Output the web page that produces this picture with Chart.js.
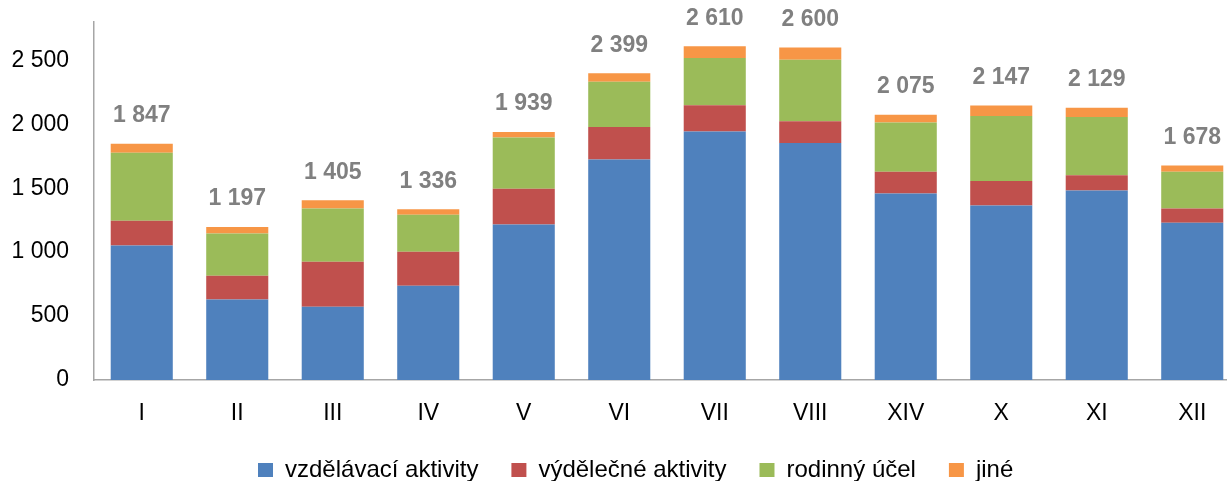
<!DOCTYPE html>
<html><head><meta charset="utf-8">
<script src="https://cdn.jsdelivr.net/npm/chart.js@4"></script>
<style>html,body{margin:0;padding:0;background:#fff;overflow:hidden}#wrap{width:1250px;height:481px}</style>
</head><body><div id="wrap"><canvas id="c" width="1250" height="481"></canvas></div>
<script>
const categories = ['I','II','III','IV','V','VI','VII','VIII','XIV','X','XI','XII'];
const vzdelavaci = [1052,630,573,737,1216,1724,1943,1854,1458,1364,1482,1229];
const vydelecne  = [193,185,351,266,279,255,205,169,170,193,120,112];
const rodinny    = [533,331,417,289,401,354,370,482,385,508,455,287];
const jine       = [69,51,64,44,43,66,92,95,62,82,72,50];
const totals     = [1847,1197,1405,1336,1939,2399,2610,2600,2075,2147,2129,1678];
const seriesNames = ['vzdělávací aktivity','výdělečné aktivity','rodinný účel','jiné'];
const seriesColors = ['#4f81bd','#c0504d','#9bbb59','#f79646'];
const yTicks = [0,500,1000,1500,2000,2500];

const fmt = v => String(v).replace(/\B(?=(\d{3})+(?!\d))/g, ' ');
Chart.defaults.font.family = '"Liberation Sans", Arial, sans-serif';
Chart.defaults.color = '#000';

const totalLabels = {
  id: 'totalLabels',
  afterDatasetsDraw(chart) {
    const meta = chart.getDatasetMeta(chart.data.datasets.length - 1);
    const ctx = chart.ctx;
    ctx.save();
    ctx.font = 'bold 23px "Liberation Sans", Arial, sans-serif';
    ctx.fillStyle = '#808080';
    ctx.textAlign = 'center';
    ctx.textBaseline = 'middle';
    meta.data.forEach((el, i) => {
      ctx.fillText(fmt(totals[i]), el.x, el.y - 28);
    });
    ctx.restore();
  }
};

const legendPlace = {
  id: 'legendPlace',
  afterLayout(chart) {
    const lg = chart.legend;
    const p = lg.options.labels.padding;
    const h = lg.bottom - lg.top;
    lg.left = 258 - p;
    lg.top = 458 - p;
    lg.bottom = lg.top + h;
    chart.scales.x.bottom = 450;
  }
};

const dataArrays = [vzdelavaci, vydelecne, rodinny, jine];
new Chart(document.getElementById('c'), {
  type: 'bar',
  data: {
    labels: categories,
    datasets: dataArrays.map((d, i) => ({
      label: seriesNames[i],
      data: d,
      backgroundColor: seriesColors[i],
      borderWidth: 0,
      barPercentage: 0.65,
      categoryPercentage: 1
    }))
  },
  options: {
    responsive: false,
    animation: false,
    layout: { padding: { top: 22, right: 10, left: 0, bottom: 0 } },
    scales: {
      x: {
        stacked: true,
        grid: { display: false, drawTicks: false },
        border: { display: true, color: '#a6a6a6', width: 1.5 },
        ticks: { font: { size: 23 }, padding: 20, color: '#000' },
        afterFit: s => { s.height = 34; }
      },
      y: {
        stacked: true,
        min: 0, max: 2800,
        grid: { display: false, drawTicks: false },
        border: { display: true, color: '#a6a6a6', width: 1.5 },
        afterBuildTicks: s => { s.ticks = yTicks.map(v => ({ value: v })); },
        ticks: { font: { size: 23 }, padding: 25, color: '#000', callback: v => fmt(v) },
        afterFit: s => { s.width = 94; s.paddingTop = 0; s.paddingBottom = 0; }
      }
    },
    plugins: {
      legend: {
        position: 'bottom',
        align: 'start',
        labels: { boxWidth: 15, boxHeight: 14, padding: 33, font: { size: 24 }, color: '#000' }
      },
      tooltip: { enabled: false },
      title: { display: false }
    }
  },
  plugins: [totalLabels, legendPlace]
});
</script>
</body></html>
